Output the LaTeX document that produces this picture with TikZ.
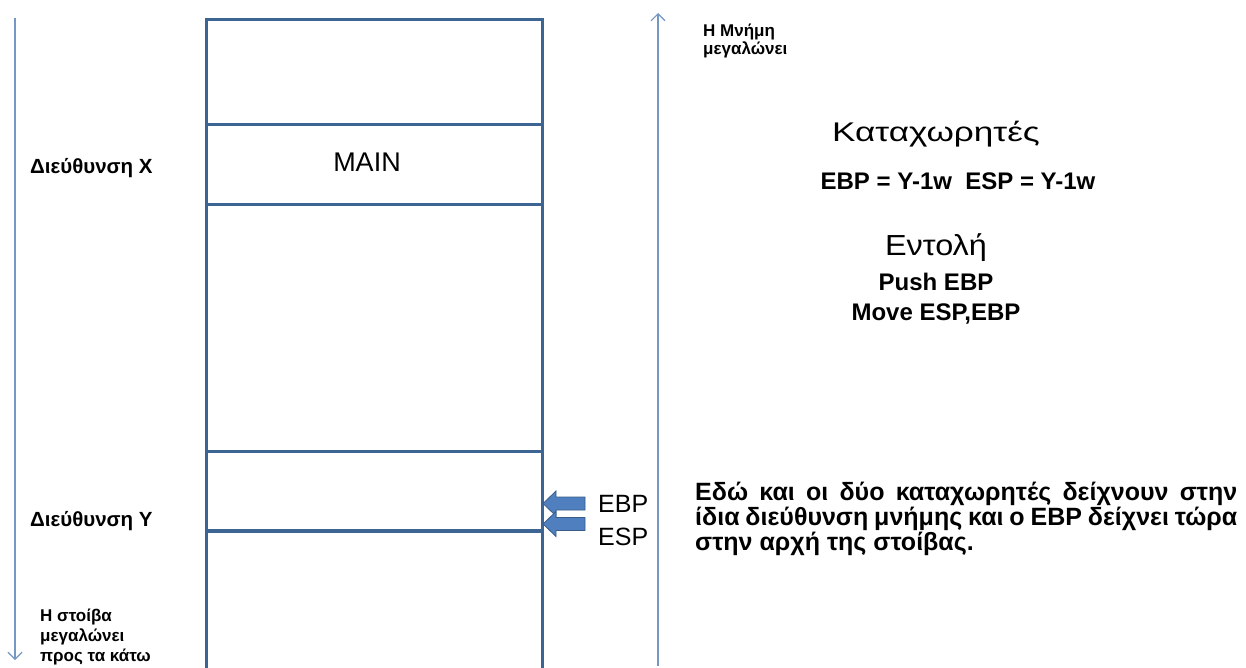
\documentclass[tikz,border=0pt]{standalone}
\usepackage{fontspec}
\setmainfont{Liberation Sans}
\usetikzlibrary{arrows.meta}
\definecolor{boxline}{HTML}{3D6594}
\definecolor{axisline}{HTML}{7497C4}
\definecolor{arrowfill}{HTML}{4F7FBE}
\definecolor{arrowedge}{HTML}{385D8A}
\begin{document}
\begin{tikzpicture}[x=1pt,y=-1pt,
  cell/.style={draw=boxline,line width=2.6pt,minimum width=336pt,inner sep=0pt,anchor=north west},
  axis/.style={draw=axisline,line width=1.1pt,-{Straight Barb[length=7pt,width=14pt,line width=1.1pt]}},
  lbl/.style={font=\fontsize{20.5}{24}\selectfont\bfseries,inner sep=0pt},
  small/.style={font=\fontsize{17}{20}\selectfont\bfseries,align=left,inner sep=0pt},
  reg/.style={font=\fontsize{25}{28}\selectfont,inner sep=0pt},
  code/.style={font=\fontsize{24}{28}\selectfont\bfseries,inner sep=0pt},
  head/.style={font=\fontsize{27}{30}\selectfont,inner sep=0pt},
  blockarrow/.style={fill=arrowfill,draw=arrowedge,line width=0.8pt,line join=miter}]
\clip (0,0) rectangle (1246,668);
\fill[white] (0,0) rectangle (1246,668);

% stack cells
\node[cell,minimum height=105pt] (c0) at (205,18) {};
\node[cell,minimum height=80pt] (cmain) at (205,123) {};
\node[cell,minimum height=247pt] (c2) at (205,203) {};
\node[cell,minimum height=80pt] (cy) at (205,450) {};
\node[cell,minimum height=160pt] (c4) at (205,529) {};
\node[font=\fontsize{27}{30}\selectfont,inner sep=0pt] (main) at (367,162) {MAIN};

% growth directions
\coordinate (sTop) at (15,18);
\coordinate (sBot) at (15,660);
\draw[axis] (sTop) -- (sBot);
\coordinate (mBot) at (658,666);
\coordinate (mTop) at (658,13);
\draw[axis] (mBot) -- (mTop);

% left labels
\node[lbl,anchor=west] (addrx) at (30,168) {Διεύθυνση Χ};
\node[lbl,anchor=west] (addry) at (30,521) {Διεύθυνση Υ};
\node[small,anchor=north west] (stackgrow) at (40,609) {Η στοίβα\\μεγαλώνει\\προς τα κάτω};
\node[small,anchor=north west,font=\fontsize{17}{18}\selectfont\bfseries] (memgrow) at (703,24) {Η Μνήμη\\μεγαλώνει};

% register pointers
\path[blockarrow] (543,503.5) -- (556,491) -- (556,497) -- (585,497) -- (585,510) -- (556,510) -- (556,516) -- cycle;
\path[blockarrow] (543,524) -- (556,511.5) -- (556,517.5) -- (585,517.5) -- (585,530.5) -- (556,530.5) -- (556,536.5) -- cycle;
\node[reg,anchor=west] (ebp) at (598,504) {EBP};
\node[reg,anchor=west] (esp) at (598,537) {ESP};

% registers and instructions
\node[head] (regs) at (936,134) {\scalebox{1.3}[1]{Καταχωρητές}};
\node[code] (regval) at (958,181) {EBP = Y-1w\ \ ESP = Y-1w};
\node[head,font=\fontsize{29}{32}\selectfont] (instr) at (936,248) {\scalebox{1.12}[1]{Εντολή}};
\node[code] (push) at (936,282) {Push EBP};
\node[code] (move) at (936,314) {Move ESP,EBP};

% explanation
\node[anchor=north west,text width=542pt,align=justify,inner sep=0pt,
  font=\fontsize{25}{25}\selectfont\bfseries] (note) at (695,482)
  {Εδώ και οι δύο καταχωρητές δείχνουν στην\linebreak ίδια διεύθυνση μνήμης και ο EBP δείχνει τώρα\linebreak στην αρχή της στοίβας.};
\end{tikzpicture}
\end{document}
